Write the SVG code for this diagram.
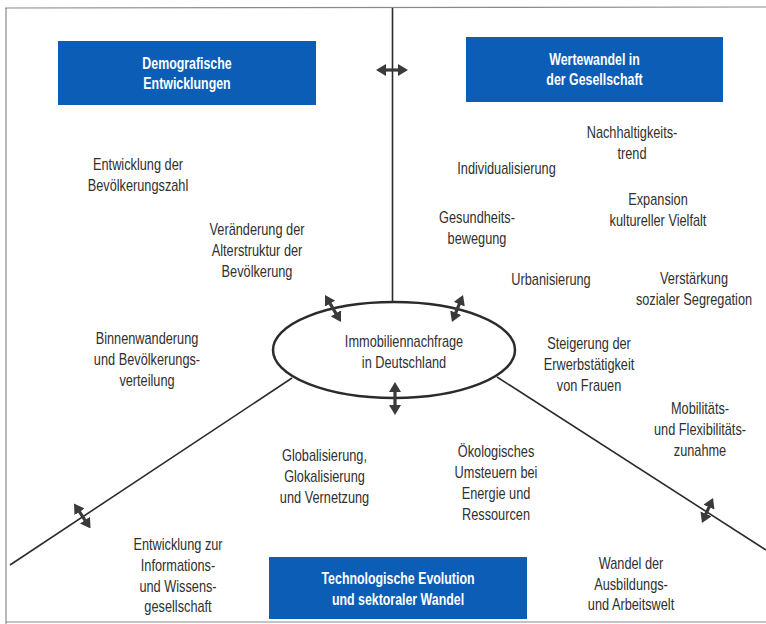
<svg xmlns="http://www.w3.org/2000/svg" width="766" height="624" viewBox="0 0 766 624">
<defs>
<style>
.t{font-family:"Liberation Sans",Arial,sans-serif;font-size:17px;fill:#303030;text-anchor:middle}
.h{font-family:"Liberation Sans",Arial,sans-serif;font-size:16.5px;font-weight:bold;fill:#fff;text-anchor:middle}
.box{fill:#0b5db6}
.ln{stroke:#2b2b2b;stroke-width:1.6;fill:none}
.ar{stroke:#3a3a3a;stroke-width:3.2;fill:none;marker-start:url(#ah);marker-end:url(#ah)}
.fr{stroke:#8a8a8a;stroke-width:1.2;fill:none}
</style>
<marker id="ah" viewBox="0 0 10 12" refX="2" refY="6" markerWidth="10" markerHeight="12" markerUnits="userSpaceOnUse" orient="auto-start-reverse">
<path d="M0,0 L10,6 L0,12 z" fill="#3a3a3a"/>
</marker>
</defs>
<rect x="0" y="0" width="766" height="624" fill="#fff"/>
<g id="frame">
<line class="fr" x1="5" y1="8" x2="766" y2="7"/>
<line class="fr" x1="6" y1="8" x2="6" y2="624"/>
<line class="fr" x1="6" y1="622" x2="766" y2="622"/>
</g>
<g id="center">
<ellipse cx="394" cy="350" rx="121" ry="48" fill="#fff" stroke="#2b2b2b" stroke-width="2.5"/>
<text class="t" transform="translate(404,347) scale(0.75,1)">Immobiliennachfrage</text>
<text class="t" transform="translate(404,368) scale(0.75,1)">in Deutschland</text>
</g>
<g id="connectors">
<line class="ln" x1="392.5" y1="8" x2="392.5" y2="302"/>
<line class="ln" x1="292" y1="378" x2="10" y2="565"/>
<line class="ln" x1="497" y1="377" x2="766" y2="550"/>
<line class="ar" x1="384" y1="70" x2="400" y2="70"/>
<line class="ar" x1="329.1" y1="301.9" x2="336.9" y2="315.1"/>
<line class="ar" x1="460" y1="302.4" x2="455" y2="314.6"/>
<line class="ar" x1="395" y1="390" x2="395" y2="407"/>
<line class="ar" x1="78.4" y1="510.2" x2="86.1" y2="521.8"/>
<line class="ar" x1="709.8" y1="505.3" x2="705.2" y2="515.7"/>
</g>
<g id="box-demografie">
<rect class="box" x="58" y="41" width="258" height="64"/>
<text class="h" transform="translate(187,69) scale(0.75,1)">Demografische</text>
<text class="h" transform="translate(187,89) scale(0.75,1)">Entwicklungen</text>
</g>
<g id="box-wertewandel">
<rect class="box" x="466" y="37" width="257" height="65"/>
<text class="h" transform="translate(594.5,65) scale(0.75,1)">Wertewandel in</text>
<text class="h" transform="translate(594.5,85) scale(0.75,1)">der Gesellschaft</text>
</g>
<g id="box-technologie">
<rect class="box" x="269" y="557" width="258" height="62"/>
<text class="h" transform="translate(398,584) scale(0.75,1)">Technologische Evolution</text>
<text class="h" transform="translate(398,605) scale(0.75,1)">und sektoraler Wandel</text>
</g>
<g id="n-bevoelkerungszahl">
<text class="t" transform="translate(138,170) scale(0.75,1)">Entwicklung der</text>
<text class="t" transform="translate(138,191) scale(0.75,1)">Bevölkerungszahl</text>
</g>
<g id="n-altersstruktur">
<text class="t" transform="translate(257,235) scale(0.75,1)">Veränderung der</text>
<text class="t" transform="translate(257,256) scale(0.75,1)">Alterstruktur der</text>
<text class="t" transform="translate(257,277) scale(0.75,1)">Bevölkerung</text>
</g>
<g id="n-binnenwanderung">
<text class="t" transform="translate(147,344) scale(0.75,1)">Binnenwanderung</text>
<text class="t" transform="translate(147,365) scale(0.75,1)">und Bevölkerungs-</text>
<text class="t" transform="translate(147,386) scale(0.75,1)">verteilung</text>
</g>
<g id="n-nachhaltigkeit">
<text class="t" transform="translate(632,138) scale(0.75,1)">Nachhaltigkeits-</text>
<text class="t" transform="translate(632,159) scale(0.75,1)">trend</text>
</g>
<g id="n-individualisierung">
<text class="t" transform="translate(506.5,174) scale(0.75,1)">Individualisierung</text>
</g>
<g id="n-expansion">
<text class="t" transform="translate(658,205) scale(0.75,1)">Expansion</text>
<text class="t" transform="translate(658,226) scale(0.75,1)">kultureller Vielfalt</text>
</g>
<g id="n-gesundheit">
<text class="t" transform="translate(477,223) scale(0.75,1)">Gesundheits-</text>
<text class="t" transform="translate(477,244) scale(0.75,1)">bewegung</text>
</g>
<g id="n-urbanisierung">
<text class="t" transform="translate(551,285) scale(0.75,1)">Urbanisierung</text>
</g>
<g id="n-segregation">
<text class="t" transform="translate(694,284) scale(0.75,1)">Verstärkung</text>
<text class="t" transform="translate(694,305) scale(0.75,1)">sozialer Segregation</text>
</g>
<g id="n-erwerbstaetigkeit">
<text class="t" transform="translate(589,349) scale(0.75,1)">Steigerung der</text>
<text class="t" transform="translate(589,370) scale(0.75,1)">Erwerbstätigkeit</text>
<text class="t" transform="translate(589,391) scale(0.75,1)">von Frauen</text>
</g>
<g id="n-mobilitaet">
<text class="t" transform="translate(700,414) scale(0.75,1)">Mobilitäts-</text>
<text class="t" transform="translate(700,435) scale(0.75,1)">und Flexibilitäts-</text>
<text class="t" transform="translate(700,456) scale(0.75,1)">zunahme</text>
</g>
<g id="n-globalisierung">
<text class="t" transform="translate(324.5,461) scale(0.75,1)">Globalisierung,</text>
<text class="t" transform="translate(324.5,482) scale(0.75,1)">Glokalisierung</text>
<text class="t" transform="translate(324.5,503) scale(0.75,1)">und Vernetzung</text>
</g>
<g id="n-oekologie">
<text class="t" transform="translate(496,457) scale(0.75,1)">Ökologisches</text>
<text class="t" transform="translate(496,478) scale(0.75,1)">Umsteuern bei</text>
<text class="t" transform="translate(496,499) scale(0.75,1)">Energie und</text>
<text class="t" transform="translate(496,520) scale(0.75,1)">Ressourcen</text>
</g>
<g id="n-wissensgesellschaft">
<text class="t" transform="translate(178,550) scale(0.75,1)">Entwicklung zur</text>
<text class="t" transform="translate(178,571) scale(0.75,1)">Informations-</text>
<text class="t" transform="translate(178,592) scale(0.75,1)">und Wissens-</text>
<text class="t" transform="translate(178,612) scale(0.75,1)">gesellschaft</text>
</g>
<g id="n-arbeitswelt">
<text class="t" transform="translate(631,569) scale(0.75,1)">Wandel der</text>
<text class="t" transform="translate(631,590) scale(0.75,1)">Ausbildungs-</text>
<text class="t" transform="translate(631,610) scale(0.75,1)">und Arbeitswelt</text>
</g>
</svg>
